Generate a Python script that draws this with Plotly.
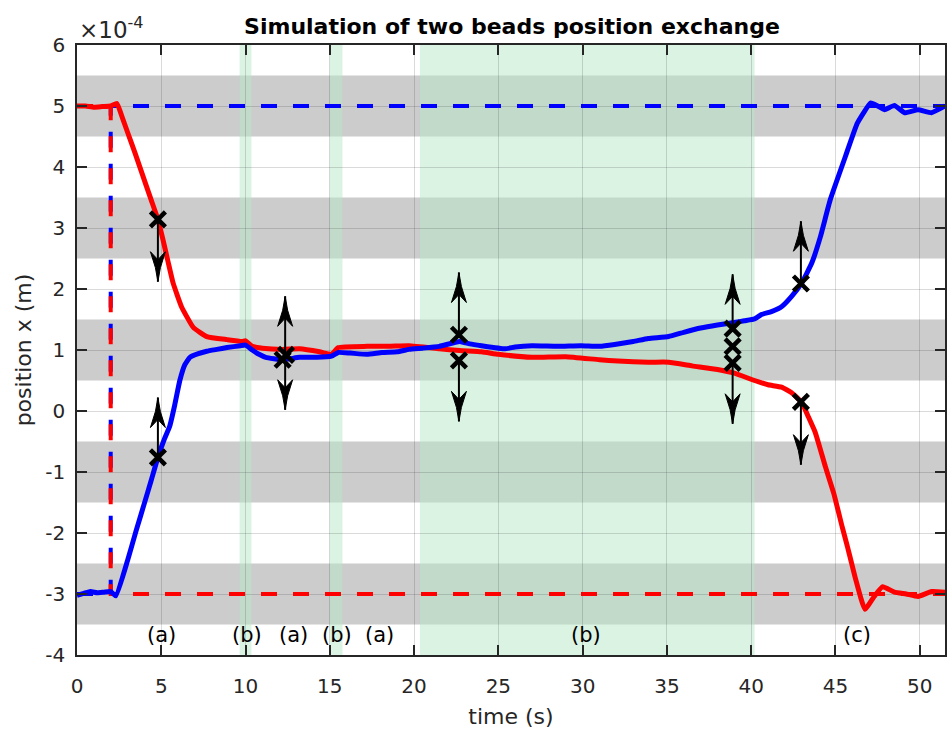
import plotly.graph_objects as go

# ---------------------------------------------------------------------------
# Data (positions in units of 1e-4 m, time in s)
# ---------------------------------------------------------------------------
SCALE_LABEL = "×10<sup>-4</sup>"

# bead driven from +5 to -3 (red)
red_t = [0, 0.5, 1.0, 1.5, 2.0, 2.37, 2.7, 3.0, 3.43, 4.0, 4.4, 4.8, 5.1, 5.4,
         5.7, 6.2, 6.9, 7.7, 8.9, 9.8, 10.0, 10.4, 11.0, 12.2, 13.2, 14.4, 15.1,
         15.5, 17.2, 18.5, 19.7, 21.5, 22.7, 24.0, 25.0, 27.0, 29.0, 31.0, 32.1,
         33.9, 35.1, 36.5, 38.0, 39.0, 40.2, 41.0, 41.8, 42.4, 43.0, 43.4, 43.8,
         44.4, 44.9, 45.4, 45.7, 46.2, 46.75, 47.3, 47.8, 48.5, 49.2, 49.9,
         50.7, 51.5]
red_x = [5.0, 5.0, 4.98, 4.99, 5.0, 5.04, 4.80, 4.57, 4.24, 3.78, 3.46, 3.14,
         2.81, 2.45, 2.10, 1.71, 1.37, 1.22, 1.17, 1.14, 1.15, 1.06, 1.03, 1.01,
         1.02, 0.97, 0.93, 1.04, 1.06, 1.06, 1.07, 1.02, 0.99, 0.97, 0.93, 0.88,
         0.89, 0.84, 0.82, 0.80, 0.80, 0.74, 0.68, 0.62, 0.50, 0.43, 0.39, 0.30,
         0.14, -0.10, -0.35, -0.91, -1.35, -1.90, -2.21, -2.76, -3.25, -3.04,
         -2.88, -2.97, -3.00, -3.04, -2.96, -2.97]

# bead driven from -3 to +5 (blue)
blue_t = [0, 0.4, 0.8, 1.2, 1.6, 2.0, 2.3, 3.0, 3.5, 4.0, 4.4, 4.8, 5.2, 5.5,
          5.8, 6.1, 6.4, 6.7, 7.2, 7.7, 8.3, 8.9, 9.7, 10.0, 10.4, 10.8, 11.2,
          12.2, 13.2, 14.2, 15.1, 15.5, 16.2, 17.2, 18.1, 19.0, 19.7, 20.5,
          21.5, 22.7, 23.3, 24.0, 25.4, 26.0, 27.0, 28.5, 29.9, 31.0, 31.9,
          33.0, 33.9, 35.1, 36.0, 37.0, 38.0, 39.0, 39.6, 40.2, 40.6, 41.2,
          41.8, 42.4, 43.0, 43.6, 44.1, 44.7, 45.6, 46.3, 47.1, 47.5, 47.9,
          48.5, 49.1, 49.9, 50.7, 51.5]
blue_x = [-3.02, -2.99, -2.96, -2.98, -2.97, -2.96, -3.03, -2.45, -1.97, -1.51,
          -1.14, -0.76, -0.45, -0.25, 0.10, 0.50, 0.76, 0.88, 0.94, 0.98, 1.01,
          1.04, 1.07, 1.08, 1.00, 0.93, 0.88, 0.84, 0.88, 0.88, 0.90, 0.96,
          0.95, 0.93, 0.96, 0.97, 1.01, 1.03, 1.06, 1.14, 1.10, 1.07, 1.02,
          1.05, 1.07, 1.06, 1.07, 1.06, 1.09, 1.14, 1.19, 1.22, 1.29, 1.36,
          1.41, 1.45, 1.48, 1.51, 1.58, 1.63, 1.71, 1.88, 2.10, 2.43, 2.85,
          3.47, 4.18, 4.72, 5.05, 5.00, 4.94, 5.01, 4.89, 4.94, 4.89, 5.00]

# target trajectories (set-points switch at t = 2 s)
T_END = 51.5
red_target_t = [0, 2.0, 2.0, T_END]
red_target_x = [5, 5, -3, -3]
blue_target_t = [0, 2.0, 2.0, T_END]
blue_target_x = [-3, -3, 5, 5]

# highlighted position bands and time windows
pos_bands = [(4.5, 5.5), (2.5, 3.5), (0.5, 1.5), (-1.5, -0.5), (-3.5, -2.5)]
time_windows = [(9.65, 10.35), (15.0, 15.75), (20.35, 40.2)]

# trap markers and force arrows
mark_t = [4.8, 4.8, 12.2, 12.4, 22.66, 22.66, 38.9, 38.9, 38.9, 42.95, 42.95]
mark_x = [3.14, -0.76, 0.84, 0.92, 1.25, 0.83, 1.35, 1.06, 0.79, 2.09, 0.15]

arrow_t = [4.8, 4.8, 12.35, 12.35, 22.66, 22.66, 38.9, 38.9, 42.95, 42.95]
arrow_from = [3.14, -0.76, 0.90, 0.90, 1.25, 0.83, 1.35, 0.79, 2.09, 0.15]
arrow_to = [2.12, 0.22, 1.88, 0.02, 2.27, -0.17, 2.24, -0.21, 3.11, -0.88]

# phase labels
phase_t = [5.0, 10.1, 12.84, 15.45, 17.95, 30.2, 46.3]
phase_text = ["(a)", "(b)", "(a)", "(b)", "(a)", "(b)", "(c)"]
PHASE_Y = -3.68

x_ticks = [0, 5, 10, 15, 20, 25, 30, 35, 40, 45, 50]
y_ticks = [-4, -3, -2, -1, 0, 1, 2, 3, 4, 5, 6]
y_ticklabels = ["-4", "-3", "-2", "-1", "0", "1", "2", "3", "4", "5", "6"]

# ---------------------------------------------------------------------------
# Layout geometry
# ---------------------------------------------------------------------------
W, H = 947, 736
ML, MR, MT, MB = 77, 0, 45, 81
X_RANGE = [0, 51.5]
Y_RANGE = [-4, 6]
PX_PER_T = (W - ML - MR) / (X_RANGE[1] - X_RANGE[0])
PX_PER_X = (H - MT - MB) / (Y_RANGE[1] - Y_RANGE[0])

FONT = "DejaVu Sans"
AX_COLOR = "#262626"

fig = go.Figure()

# dashed set-point trajectories
fig.add_trace(go.Scatter(x=blue_target_t, y=blue_target_x, mode="lines",
                         line=dict(color="#0000ff", width=4, dash="16px,16px"),
                         hoverinfo="skip", showlegend=False))
fig.add_trace(go.Scatter(x=red_target_t, y=red_target_x, mode="lines",
                         line=dict(color="#ff0000", width=4, dash="16px,16px"),
                         hoverinfo="skip", showlegend=False))

# measured bead trajectories
fig.add_trace(go.Scatter(x=red_t, y=red_x, mode="lines",
                         line=dict(color="#ff0000", width=5, shape="spline",
                                   smoothing=0.4),
                         showlegend=False))
fig.add_trace(go.Scatter(x=blue_t, y=blue_x, mode="lines",
                         line=dict(color="#0000ff", width=5, shape="spline",
                                   smoothing=0.4),
                         showlegend=False))

# arrow shafts
shaft_t, shaft_x = [], []
for t, a, b in zip(arrow_t, arrow_from, arrow_to):
    shaft_t += [t, t, None]
    shaft_x += [a, b, None]
fig.add_trace(go.Scatter(x=shaft_t, y=shaft_x, mode="lines",
                         line=dict(color="black", width=2),
                         hoverinfo="skip", showlegend=False))

# arrow heads (barbed, sized in pixels then mapped to data units)
HEAD = [(0, 0), (-2.5, -14), (-7.5, -30), (0, -22), (7.5, -30), (2.5, -14),
        (0, 0)]
head_t, head_x = [], []
for t, a, b in zip(arrow_t, arrow_from, arrow_to):
    d = 1 if b > a else -1
    for dx, along in HEAD:
        head_t.append(t + dx / PX_PER_T)
        head_x.append(b + d * along / PX_PER_X)
    head_t.append(None)
    head_x.append(None)
fig.add_trace(go.Scatter(x=head_t, y=head_x, mode="lines", fill="toself",
                         fillcolor="black", line=dict(color="black", width=1),
                         hoverinfo="skip", showlegend=False))

# trap markers
fig.add_trace(go.Scatter(x=mark_t, y=mark_x, mode="markers",
                         marker=dict(symbol="x-thin", size=15,
                                     line=dict(color="black", width=4.5)),
                         showlegend=False))

# background bands (below grid)
shapes = []
for lo, hi in pos_bands:
    shapes.append(dict(type="rect", xref="paper", yref="y", x0=0, x1=1,
                       y0=lo, y1=hi, fillcolor="#cccccc", line_width=0,
                       layer="below"))
for lo, hi in time_windows:
    shapes.append(dict(type="rect", xref="x", yref="paper", x0=lo, x1=hi,
                       y0=0, y1=1, fillcolor="rgba(181,231,197,0.5)",
                       line_width=0, layer="below"))

annotations = [dict(x=t, y=PHASE_Y, text=s, showarrow=False, xref="x", yref="y",
                    font=dict(family=FONT, size=21, color="black"))
               for t, s in zip(phase_t, phase_text)]
annotations.append(dict(x=0, y=1, xref="paper", yref="paper", xanchor="left",
                        yanchor="bottom", yshift=0, text=SCALE_LABEL,
                        showarrow=False,
                        font=dict(family=FONT, size=23, color=AX_COLOR)))

axis_common = dict(showline=True, linecolor=AX_COLOR, linewidth=1.5,
                   mirror="ticks", ticks="inside", ticklen=10, tickwidth=1.5,
                   tickcolor=AX_COLOR, showgrid=True,
                   gridcolor="rgba(38,38,38,0.17)", gridwidth=1,
                   zeroline=False,
                   tickfont=dict(family=FONT, size=20, color=AX_COLOR))

fig.update_layout(
    width=W, height=H,
    margin=dict(l=ML, r=MR, t=MT, b=MB),
    plot_bgcolor="white", paper_bgcolor="white",
    title=dict(text="<b>Simulation of two beads position exchange</b>",
               x=(ML + (W - ML - MR) / 2) / W, xanchor="center",
               y=1 - 26 / H, yanchor="middle",
               font=dict(family=FONT, size=22, color="black")),
    xaxis=dict(range=X_RANGE, tickvals=x_ticks, ticklabelstandoff=12,
               title=dict(text="time (s)", standoff=12,
                          font=dict(family=FONT, size=22, color=AX_COLOR)),
               **axis_common),
    yaxis=dict(range=Y_RANGE, tickvals=y_ticks, ticktext=y_ticklabels,
               ticklabelstandoff=6,
               title=dict(text="position x (m)", standoff=8,
                          font=dict(family=FONT, size=22, color=AX_COLOR)),
               **axis_common),
    shapes=shapes,
    annotations=annotations,
)

fig.write_html("out.html")
